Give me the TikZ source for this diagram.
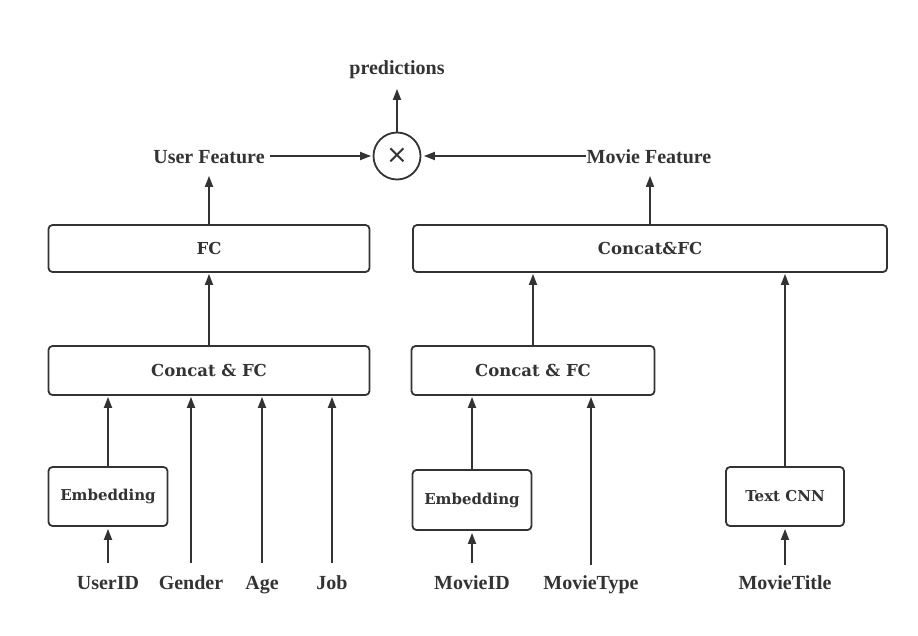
\documentclass[tikz,border=0pt]{standalone}
\usepackage{fontspec}
\setmainfont{Liberation Serif}
\newfontfamily\boxfont{DejaVu Serif}
\newfontfamily\symfont{DejaVu Sans}
\usetikzlibrary{arrows.meta}
\definecolor{ink}{HTML}{333333}
\begin{document}
\begin{tikzpicture}[x=1pt,y=-1pt,line width=1.8pt,
  blk/.style={draw=ink,rounded corners=4pt,inner sep=0pt,text=ink,
    font=\boxfont\bfseries\fontsize{16.5}{20}\selectfont},
  sblk/.style={blk,font=\boxfont\bfseries\fontsize{15}{18}\selectfont},
  lbl/.style={anchor=base,inner sep=0pt,text height=14pt,text depth=4pt,text=ink,
    font=\bfseries\fontsize{20}{24}\selectfont},
  arr/.style={draw=ink,-{Triangle[length=11pt,width=8pt]}}]
\useasboundingbox (0,0) rectangle (918,635);
% boxes
\node[blk,minimum width=321pt,minimum height=47pt] (fc) at (209,248.5) {FC};
\node[blk,minimum width=321pt,minimum height=49pt] (cfl) at (209,370.5) {Concat \& FC};
\node[sblk,minimum width=119pt,minimum height=59pt] (embl) at (108,496.5) {Embedding};
\node[blk,minimum width=474pt,minimum height=47pt] (cfr) at (650,248.5) {Concat\&FC};
\node[blk,minimum width=243pt,minimum height=49pt] (cfm) at (533,370.5) {Concat \& FC};
\node[sblk,minimum width=119pt,minimum height=60pt] (embr) at (472,500) {Embedding};
\node[sblk,minimum width=118pt,minimum height=59pt] (tcnn) at (785,496.5) {Text CNN};
\node[draw=ink,circle,minimum size=47pt,inner sep=0pt,text=ink,
  font=\symfont\fontsize{26}{26}\selectfont] (mult) at (397,156) {×};
% labels
\node[lbl] (pred) at (397,74) {predictions};
\node[lbl] (uf) at (209,163) {User Feature};
\node[lbl] (mf) at (649,163) {Movie Feature};
\node[lbl] (userid) at (108,589) {UserID};
\node[lbl] (gender) at (191,589) {Gender};
\node[lbl] (age) at (262,589) {Age};
\node[lbl] (job) at (332,589) {Job};
\node[lbl] (movieid) at (472,589) {MovieID};
\node[lbl] (movietype) at (591,589) {MovieType};
\node[lbl] (movietitle) at (785,589) {MovieTitle};
% connectors
\draw[arr,shorten >=10pt] (mult.north) -- (pred.south);
\draw[arr,shorten <=4pt,shorten >=1.5pt] (uf.east |- mult.west) -- (mult.west);
\draw[arr,shorten >=2.5pt] (mf.west |- mult.east) -- (mult.east);
\draw[arr,shorten >=8pt] (fc.north) -- (uf.south);
\draw[arr,shorten >=8pt] (cfr.north) -- (cfr.north |- mf.south);
\draw[arr,shorten >=1pt] (cfl.north) -- (fc.south);
\draw[arr,shorten >=1pt] (embl.north) -- (embl.north |- cfl.south);
\draw[arr,shorten <=11pt,shorten >=1pt] (gender.north) -- (gender.north |- cfl.south);
\draw[arr,shorten <=11pt,shorten >=1pt] (age.north) -- (age.north |- cfl.south);
\draw[arr,shorten <=11pt,shorten >=1pt] (job.north) -- (job.north |- cfl.south);
\draw[arr,shorten <=11pt,shorten >=2pt] (userid.north) -- (embl.south);
\draw[arr,shorten <=11pt,shorten >=2pt] (movieid.north) -- (embr.south);
\draw[arr,shorten >=1pt] (embr.north) -- (embr.north |- cfm.south);
\draw[arr,shorten <=9pt,shorten >=1pt] (movietype.north) -- (movietype.north |- cfm.south);
\draw[arr,shorten >=1pt] (cfm.north) -- (cfm.north |- cfr.south);
\draw[arr,shorten <=9pt,shorten >=2pt] (movietitle.north) -- (tcnn.south);
\draw[arr,shorten >=1pt] (tcnn.north) -- (tcnn.north |- cfr.south);
\end{tikzpicture}
\end{document}
